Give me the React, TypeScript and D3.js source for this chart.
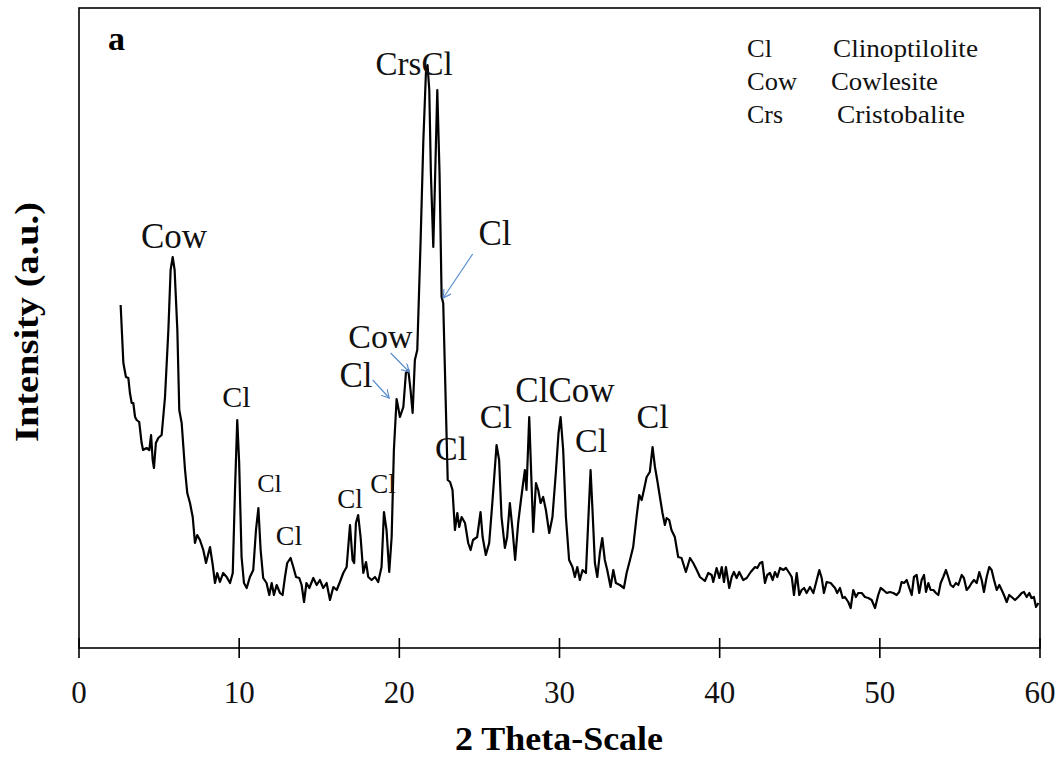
import React from 'react';
import * as d3 from 'd3';

// ---- data ----
const TWO_THETA = [
  2.6, 2.77, 2.93, 3.08, 3.18, 3.29, 3.39, 3.5, 3.6, 3.76, 3.91, 4.0, 4.22, 4.39, 4.5, 4.6, 4.68, 4.8, 4.95, 5.16,
  5.37, 5.58, 5.72, 5.85, 5.97, 6.14, 6.26, 6.41, 6.62, 6.76, 6.93, 7.1, 7.24, 7.38, 7.55, 7.76, 7.93, 8.18, 8.35, 8.49,
  8.63, 8.8, 9.0, 9.22, 9.43, 9.6, 9.74, 9.88, 10.0, 10.15, 10.3, 10.47, 10.67, 10.88, 11.05, 11.2, 11.34, 11.5, 11.71, 11.88,
  12.03, 12.17, 12.34, 12.55, 12.71, 12.86, 13.0, 13.21, 13.38, 13.55, 13.75, 13.9, 14.05, 14.2, 14.38, 14.63, 14.84, 15.04, 15.25, 15.46,
  15.67, 15.88, 16.09, 16.29, 16.5, 16.71, 16.92, 17.08, 17.18, 17.29, 17.43, 17.58, 17.75, 17.92, 18.06, 18.27, 18.48, 18.68, 18.89, 19.04,
  19.2, 19.37, 19.52, 19.66, 19.83, 20.04, 20.25, 20.41, 20.56, 20.7, 20.83, 20.97, 21.12, 21.33, 21.5, 21.66, 21.76, 21.87, 21.97, 22.12,
  22.24, 22.37, 22.51, 22.64, 22.74, 23.02, 23.17, 23.32, 23.47, 23.62, 23.74, 23.89, 24.1, 24.3, 24.45, 24.6, 24.86, 25.07, 25.2, 25.4,
  25.61, 25.82, 26.07, 26.23, 26.38, 26.59, 26.73, 26.9, 27.07, 27.23, 27.42, 27.57, 27.73, 27.84, 27.94, 28.11, 28.24, 28.36, 28.53, 28.67,
  28.82, 28.98, 29.15, 29.36, 29.56, 29.77, 29.94, 30.07, 30.23, 30.4, 30.6, 30.81, 30.96, 31.11, 31.27, 31.44, 31.65, 31.79, 31.94, 32.06,
  32.21, 32.36, 32.52, 32.67, 32.83, 32.98, 33.19, 33.36, 33.52, 33.77, 34.02, 34.19, 34.4, 34.6, 34.81, 34.98, 35.13, 35.27, 35.44, 35.64,
  35.81, 35.96, 36.1, 36.27, 36.43, 36.58, 36.69, 36.85, 36.99, 37.2, 37.41, 37.62, 37.89, 38.15, 38.35, 38.57, 38.77, 39.08, 39.29, 39.5,
  39.6, 39.81, 39.98, 40.13, 40.27, 40.39, 40.6, 40.75, 40.89, 41.06, 41.22, 41.47, 41.69, 41.94, 42.21, 42.35, 42.52, 42.66, 42.83, 42.97,
  43.14, 43.31, 43.45, 43.6, 43.77, 43.97, 44.14, 44.35, 44.5, 44.64, 44.81, 44.97, 45.12, 45.27, 45.43, 45.64, 45.85, 46.06, 46.22, 46.37,
  46.51, 46.68, 46.93, 47.2, 47.34, 47.51, 47.68, 47.82, 48.03, 48.18, 48.34, 48.51, 48.65, 48.87, 49.07, 49.28, 49.49, 49.7, 49.9, 50.05,
  50.22, 50.43, 50.63, 50.84, 51.05, 51.21, 51.36, 51.51, 51.68, 51.84, 51.99, 52.13, 52.3, 52.46, 52.61, 52.76, 52.88, 53.03, 53.17, 53.34,
  53.5, 53.65, 53.8, 53.96, 54.13, 54.27, 54.42, 54.58, 54.75, 54.9, 55.11, 55.25, 55.42, 55.58, 55.73, 55.88, 56.05, 56.21, 56.36, 56.5,
  56.67, 56.83, 56.98, 57.13, 57.3, 57.46, 57.61, 57.75, 57.92, 58.08, 58.23, 58.44, 58.64, 58.86, 59.0, 59.17, 59.33, 59.47, 59.62, 59.75,
  59.9,
];

const INTENSITY = [
  343, 285, 271, 270, 255, 245, 245, 231, 228, 226, 205, 198, 200, 198, 213, 188, 180, 205, 210, 213,
  251, 318, 378, 391, 378, 318, 238, 225, 178, 155, 145, 131, 105, 113, 108, 98, 85, 101, 83, 65,
  75, 66, 75, 71, 65, 75, 158, 228, 185, 91, 65, 60, 71, 78, 118, 140, 98, 70, 65, 53,
  65, 53, 63, 55, 53, 71, 85, 90, 81, 71, 70, 63, 46, 65, 60, 70, 63, 68, 60, 65,
  48, 61, 58, 66, 75, 81, 123, 88, 85, 125, 133, 111, 75, 86, 71, 68, 71, 66, 81, 136,
  118, 76, 111, 198, 249, 231, 241, 275, 278, 258, 235, 288, 298, 408, 508, 575, 583, 558, 475, 401,
  475, 558, 475, 351, 345, 168, 166, 158, 118, 135, 121, 131, 125, 105, 98, 108, 111, 136, 111, 93,
  105, 148, 203, 188, 131, 100, 111, 145, 118, 88, 125, 145, 165, 178, 158, 231, 171, 116, 165, 158,
  145, 151, 138, 115, 131, 175, 215, 231, 198, 131, 88, 81, 71, 81, 68, 78, 75, 125, 178, 138,
  85, 71, 95, 110, 88, 78, 61, 78, 65, 63, 60, 75, 88, 101, 131, 153, 148, 158, 171, 176,
  201, 181, 168, 151, 135, 123, 130, 128, 118, 111, 91, 90, 76, 90, 85, 78, 71, 67, 75, 73,
  66, 80, 70, 81, 66, 81, 60, 71, 76, 70, 76, 68, 70, 76, 81, 80, 85, 86, 65, 73,
  75, 68, 76, 71, 80, 78, 80, 75, 71, 53, 75, 53, 58, 60, 55, 61, 55, 68, 78, 70,
  55, 66, 65, 60, 55, 60, 50, 51, 46, 40, 58, 51, 55, 55, 51, 50, 48, 40, 53, 60,
  58, 55, 56, 55, 53, 56, 66, 65, 68, 60, 53, 71, 73, 55, 68, 73, 56, 65, 58, 58,
  55, 53, 65, 71, 78, 71, 63, 61, 65, 63, 73, 70, 58, 61, 65, 68, 65, 76, 68, 56,
  71, 81, 78, 68, 58, 63, 58, 53, 46, 53, 51, 48, 51, 55, 56, 51, 55, 50, 51, 41,
  45,
];

const X_TICKS = [0, 10, 20, 30, 40, 50, 60];

// peak annotations: text, centre 2θ, baseline intensity
const PEAK_TEXT = ['Cow', 'Cl', 'Cl', 'Cl', 'Cl', 'Cl', 'Cl', 'Cow', 'CrsCl', 'Cl', 'Cl', 'Cl', 'ClCow', 'Cl', 'Cl'];
const PEAK_X = [5.93, 9.83, 11.89, 13.11, 16.92, 18.98, 17.29, 18.82, 20.92, 25.97, 23.23, 26.03, 30.34, 31.97, 35.81];
const PEAK_Y = [400, 241, 156, 103, 140, 155, 261, 300, 573, 403, 188, 220, 246, 196, 220];
const PEAK_SIZE = [35, 30, 26, 28, 27, 27, 35, 34, 33, 35, 34, 34, 35, 34, 34];

// arrows: from (x1,y1) to (x2,y2) in data units
const ARROW_X1 = [24.58, 19.46, 18.34];
const ARROW_Y1 = [394, 295, 268];
const ARROW_X2 = [22.74, 20.62, 19.37];
const ARROW_Y2 = [350, 276, 250];

const LEGEND_CODE = ['Cl', 'Cow', 'Crs'];
const LEGEND_NAME = ['Clinoptilolite', 'Cowlesite', 'Cristobalite'];

const FONT = '"Liberation Serif", "Times New Roman", Times, serif';

export default function App() {
  const W = 1063, H = 758;
  const x = d3.scaleLinear().domain([0, 60]).range([79, 1040]);
  const y = d3.scaleLinear().domain([0, 640]).range([648, 8]);
  const pts: [number, number][] = TWO_THETA.map((t, i) => [t, INTENSITY[i]]);
  const line = d3.line<[number, number]>().x(d => x(d[0])).y(d => y(d[1])).curve(d3.curveLinear);
  const arrowColor = '#5B8FD0';
  const legendY = [57, 90, 123];
  const legendNameX = [833, 831, 837];
  const legendNameW = [145, 107, 128];
  const legendCodeW = [25, 50, 36];

  return (
    <div style={{ position: 'absolute', left: 0, top: 0 }}>
      <svg width={W} height={H} style={{ display: 'block', background: '#fff' }}>
        <defs>
          <marker id="arr" viewBox="0 0 10 10" refX="9" refY="5" markerWidth="9" markerHeight="9" orient="auto" markerUnits="userSpaceOnUse">
            <path d="M0,0 L9,5 L0,10" fill="none" stroke={arrowColor} strokeWidth={1.3} />
          </marker>
        </defs>
        <rect x={0} y={0} width={W} height={H} fill="#fff" />
        {/* frame */}
        <rect x={x(0)} y={y(640)} width={x(60) - x(0)} height={y(0) - y(640)} fill="none" stroke="#000" strokeWidth={1.6} />
        {/* ticks */}
        {X_TICKS.map(t => (
          <g key={t}>
            <line x1={x(t)} x2={x(t)} y1={y(0) - 10} y2={y(0) + 10} stroke="#000" strokeWidth={1.6} />
            <text x={x(t)} y={703} textAnchor="middle" fontFamily={FONT} fontSize={31} fill="#111">{t}</text>
          </g>
        ))}
        {/* curve */}
        <path d={line(pts) || ''} fill="none" stroke="#000" strokeWidth={2.2} strokeLinejoin="round" />
        {/* arrows */}
        {ARROW_X1.map((_, i) => (
          <line key={i} x1={x(ARROW_X1[i])} y1={y(ARROW_Y1[i])} x2={x(ARROW_X2[i])} y2={y(ARROW_Y2[i])}
            stroke={arrowColor} strokeWidth={1.2} markerEnd="url(#arr)" />
        ))}
        {/* peak labels */}
        {PEAK_TEXT.map((s, i) => (
          <text key={i} x={x(PEAK_X[i])} y={y(PEAK_Y[i])} textAnchor="middle" fontFamily={FONT} fontSize={PEAK_SIZE[i]} fill="#111">{s}</text>
        ))}
        {/* panel letter */}
        <text x={x(1.81)} y={y(598)} fontFamily={FONT} fontWeight="bold" fontSize={34} fill="#000">a</text>
        {/* legend */}
        {LEGEND_CODE.map((c, i) => (
          <g key={c}>
            <text x={747} y={legendY[i]} fontFamily={FONT} fontSize={25} textLength={legendCodeW[i]} lengthAdjust="spacingAndGlyphs" fill="#111">{c}</text>
            <text x={legendNameX[i]} y={legendY[i]} fontFamily={FONT} fontSize={25} textLength={legendNameW[i]} lengthAdjust="spacingAndGlyphs" fill="#111">{LEGEND_NAME[i]}</text>
          </g>
        ))}
        {/* axis titles */}
        <text x={559} y={750} textAnchor="middle" fontFamily={FONT} fontWeight="bold" fontSize={34} textLength={208} lengthAdjust="spacingAndGlyphs" fill="#000">2 Theta-Scale</text>
        <text transform="translate(38,322) rotate(-90)" textAnchor="middle" fontFamily={FONT} fontWeight="bold" fontSize={34} textLength={240} lengthAdjust="spacingAndGlyphs" fill="#000">Intensity (a.u.)</text>
      </svg>
    </div>
  );
}
